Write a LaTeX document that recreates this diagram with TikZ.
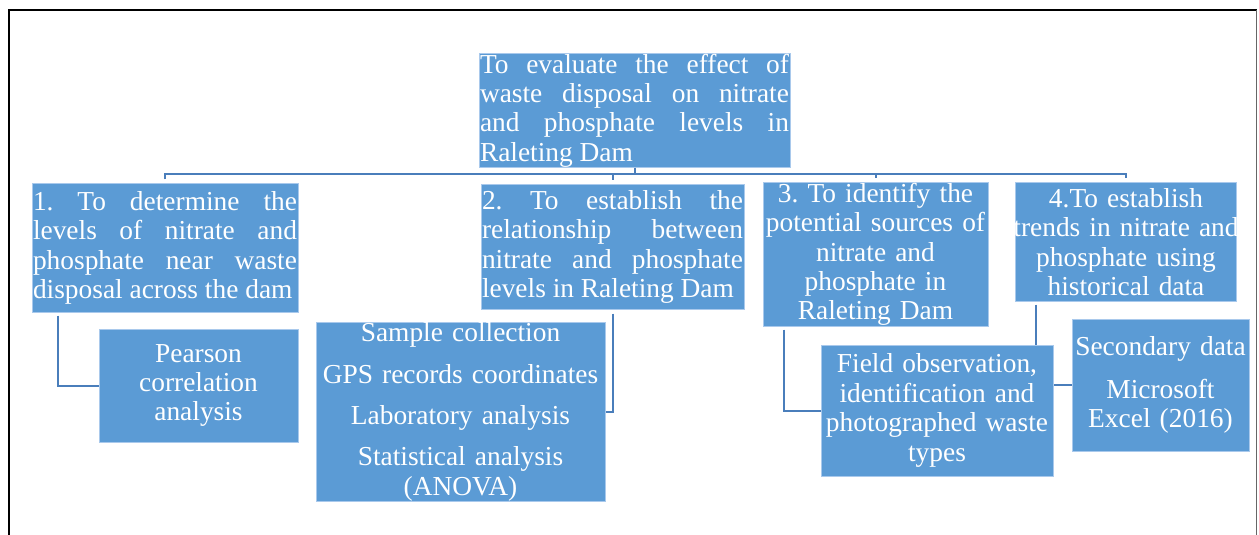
\documentclass[tikz,border=0pt]{standalone}
\usepackage{fontspec}
\setmainfont{Liberation Serif}
\usepackage{xcolor}
\usepackage{tikz}
\definecolor{boxblue}{HTML}{5B9BD5}
\definecolor{boxedge}{HTML}{A9C9EC}
\definecolor{linkblue}{HTML}{4A7EBB}
\newcommand\boxfont{\fontsize{13.7}{14.7}\selectfont\frenchspacing
  \hyphenpenalty=10000 \exhyphenpenalty=10000 \tolerance=10000}

\begin{document}
\begin{tikzpicture}[x=0.5pt,y=-0.5pt,
    goal/.style={fill=boxblue, draw=boxedge, line width=0.5pt, text=white,
                 inner xsep=0.5pt, inner ysep=0pt, font=\boxfont},
    link/.style={draw=linkblue, line width=1pt}]

  \useasboundingbox (0,0) rectangle (1259,535);

  % -- page frame, left open at the bottom --
  \draw[line width=1pt, black] (8.5,535) -- (8.5,10) -- (1256.5,10);
  \draw[line width=0.6pt, black!60] (1256.5,10) -- (1256.5,535);

  % -- main aim --
  \node[goal, text width=154.5pt, minimum height=55.5pt, align=justify] (aim) at (634.5,110.5)
    {To evaluate the effect of\linebreak waste disposal on nitrate\linebreak
     and phosphate levels in\linebreak Raleting Dam};

  % -- the four objectives --
  \node[goal, text width=132pt, minimum height=64pt, align=justify] (obj1) at (165,248)
    {1. To determine the\linebreak levels of nitrate and\linebreak
     phosphate near waste\linebreak disposal across the dam};
  \node[goal, text width=130.5pt, minimum height=62pt, align=justify] (obj2) at (612.5,247)
    {2. To establish the\linebreak relationship between\linebreak
     nitrate and phosphate\linebreak levels in Raleting Dam};
  \node[goal, text width=111.5pt, minimum height=71.5pt, align=center] (obj3) at (875.5,254.5)
    {3. To identify the\\ potential sources of\\ nitrate and\\ phosphate in\\ Raleting Dam};
  % the second line is a touch wider than the box, so it may hang over
  \node[goal, text width=110.5pt, inner xsep=0pt, minimum height=59pt, align=center] (obj4) at (1126,242)
    {4.To establish\\ \makebox[\linewidth]{trends in nitrate and}\\ phosphate using\\ historical data};

  % -- methods under each objective --
  \node[goal, text width=98.5pt, minimum height=56.5pt, align=center] (pearson) at (198.5,385.5)
    {Pearson\\ correlation\\ analysis};
  \node[goal, text width=143.5pt, minimum height=87pt, align=center] (sampling) at (460.5,412)
    {Sample collection\\[6pt] GPS records coordinates\\[6pt] Laboratory analysis\\[6pt]
     Statistical analysis\\ (ANOVA)};
  \node[goal, text width=87.5pt, minimum height=66pt, align=center] (secondary) at (1160.5,385)
    {Secondary data\\[6.5pt] Microsoft\\ Excel (2016)};

  % -- tree lines --
  \coordinate (bus) at (0,174);
  \draw[link] (aim.south) -- (aim.south |- bus);
  \draw[link] ([yshift=2pt]obj1.north) |- (obj4.north |- bus) -- ([yshift=2pt]obj4.north);
  \foreach \n in {obj2,obj3}
    \draw[link] (\n.north |- bus) -- ([yshift=2pt]\n.north);

  \draw[link] ([shift={(13pt,-1.5pt)}]obj1.south west) |- (pearson.west);
  \draw[link] ([yshift=-2pt]obj2.south) |- (sampling.east);
  % line from 4 passes under the field box, so the box goes on top of it
  \draw[link] ([shift={(10.5pt,-1.5pt)}]obj4.south west) |- (secondary.west);
  \node[goal, text width=115pt, minimum height=65.5pt, align=center] (field) at (937,410.5)
    {Field observation,\\ identification and\\ photographed waste\\ types};
  \draw[link] ([shift={(10.5pt,-1.5pt)}]obj3.south west) |- (field.west);
\end{tikzpicture}
\end{document}
